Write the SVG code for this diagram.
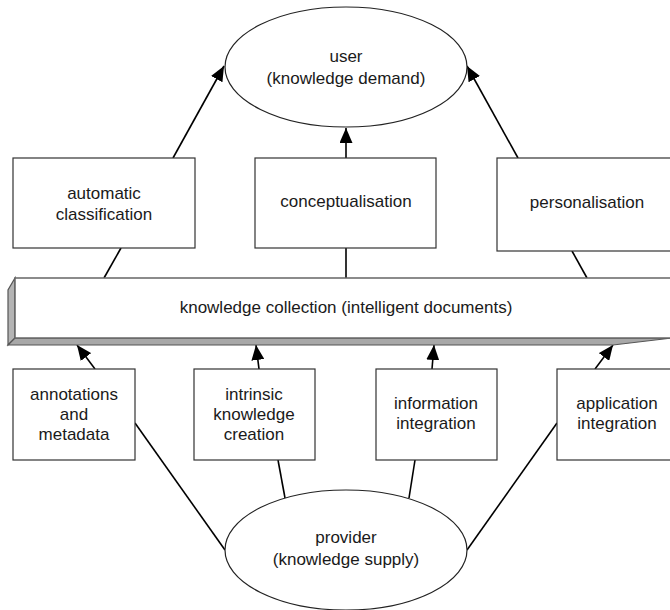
<svg xmlns="http://www.w3.org/2000/svg" width="670" height="610" viewBox="0 0 670 610">
<defs>
<style>
.box{fill:#fff;stroke:#333;stroke-width:1.2}
.ell{fill:#fff;stroke:#222;stroke-width:1.2}
.t{font-family:"Liberation Sans",Arial,sans-serif;font-size:17px;fill:#1a1a1a;text-anchor:middle}
.c{stroke:#000;stroke-width:1.6;fill:none}
.a{marker-end:url(#ah)}
</style>
<marker id="ah" markerUnits="userSpaceOnUse" markerWidth="16" markerHeight="13" refX="15" refY="6.5" orient="auto">
<path d="M0,0 L15,6.5 L0,13 z" fill="#000"/>
</marker>
</defs>
<rect width="670" height="610" fill="#fff"/>

<g id="connectors">
<line class="c a" x1="173" y1="158" x2="224" y2="66"/>
<line class="c a" x1="346" y1="158" x2="346" y2="128"/>
<line class="c a" x1="518" y1="158" x2="467" y2="66"/>
<line class="c" x1="121" y1="248" x2="104" y2="278"/>
<line class="c" x1="346" y1="248" x2="346" y2="278"/>
<line class="c" x1="572" y1="251" x2="587" y2="278"/>
<line class="c a" x1="95" y1="369" x2="77" y2="345"/>
<line class="c a" x1="259" y1="369" x2="256" y2="345"/>
<line class="c a" x1="432" y1="369" x2="434" y2="345"/>
<line class="c a" x1="595" y1="369" x2="613" y2="345"/>
<line class="c" x1="135" y1="423" x2="225" y2="550"/>
<line class="c" x1="278" y1="460" x2="285" y2="498"/>
<line class="c" x1="415" y1="460" x2="409" y2="498"/>
<line class="c" x1="557" y1="423" x2="467" y2="550"/>
</g>

<g id="user">
<ellipse class="ell" cx="346" cy="67" rx="121" ry="60"/>
<text class="t" x="346" y="62">user</text>
<text class="t" x="346" y="84">(knowledge demand)</text>
</g>

<g id="automatic-classification">
<rect class="box" x="13" y="158" width="182" height="90"/>
<text class="t" x="104" y="199">automatic</text>
<text class="t" x="104" y="220">classification</text>
</g>

<g id="conceptualisation">
<rect class="box" x="255" y="158" width="181" height="90"/>
<text class="t" x="346" y="207">conceptualisation</text>
</g>

<g id="personalisation">
<rect class="box" x="497" y="158" width="180" height="93"/>
<text class="t" x="587" y="208">personalisation</text>
</g>

<g id="knowledge-collection">
<polygon points="15,278 15,338 8,345 8,290" fill="#b4b4b4" stroke="#555" stroke-width="1.2"/>
<polygon points="15,338 672,338 613,345 8,345" fill="#a8a8a8" stroke="#555" stroke-width="1.2"/>
<rect x="15" y="278" width="660" height="60" fill="#fff" stroke="#666" stroke-width="1.5"/>
<text class="t" x="346" y="313">knowledge collection (intelligent documents)</text>
</g>

<g id="annotations-metadata">
<rect class="box" x="13" y="369" width="122" height="91"/>
<text class="t" x="74" y="400">annotations</text>
<text class="t" x="74" y="420">and</text>
<text class="t" x="74" y="440">metadata</text>
</g>

<g id="intrinsic-knowledge-creation">
<rect class="box" x="194" y="369" width="121" height="91"/>
<text class="t" x="254" y="400">intrinsic</text>
<text class="t" x="254" y="420">knowledge</text>
<text class="t" x="254" y="440">creation</text>
</g>

<g id="information-integration">
<rect class="box" x="376" y="369" width="121" height="91"/>
<text class="t" x="436" y="409">information</text>
<text class="t" x="436" y="429">integration</text>
</g>

<g id="application-integration">
<rect class="box" x="557" y="369" width="120" height="91"/>
<text class="t" x="617" y="409">application</text>
<text class="t" x="617" y="429">integration</text>
</g>

<g id="provider">
<ellipse class="ell" cx="346" cy="550" rx="121" ry="60"/>
<text class="t" x="346" y="543">provider</text>
<text class="t" x="346" y="565">(knowledge supply)</text>
</g>
</svg>
